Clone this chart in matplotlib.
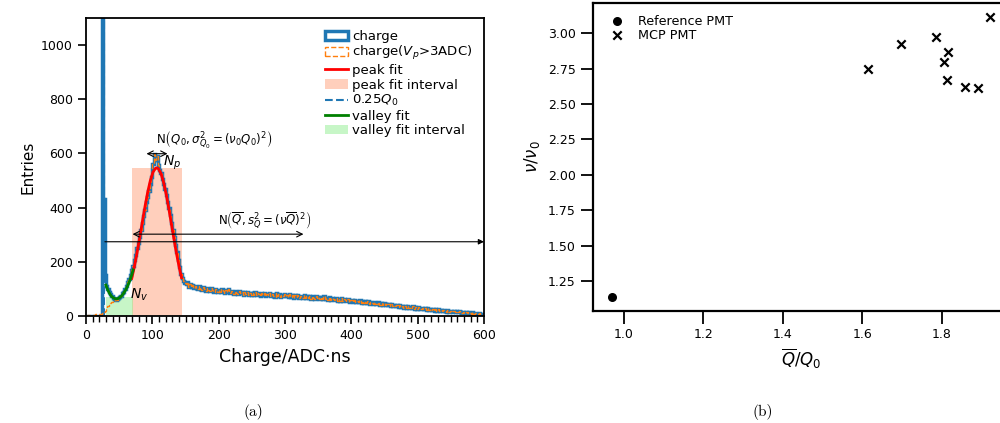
import numpy as np
import matplotlib.pyplot as plt

# histogram: 2 ADC.ns bins from 0 to 600
bin_edges = np.arange(0, 602, 2)
charge_counts = [
    0, 0, 0, 0, 0, 0, 0, 0, 0, 0, 0, 0, 3000, 430, 150, 112, 100, 90, 80, 72, 66, 63, 58, 62, 66,
    70, 75, 84, 90, 100, 112, 125, 138, 150, 168, 185, 205, 225, 250, 268, 292, 318, 345, 368, 392, 420, 440, 462, 488, 512,
    560, 598, 575, 590, 558, 540, 528, 505, 488, 470, 448, 420, 398, 372, 345, 318, 290, 262, 235, 205, 180, 155, 140, 128, 120,
    118, 124, 108, 117, 106, 115, 102, 112, 104, 99, 111, 101, 96, 108, 98, 93, 105, 97, 91, 102, 95, 90, 100, 92, 88,
    97, 89, 99, 91, 86, 96, 88, 98, 84, 93, 87, 82, 94, 85, 80, 91, 83, 89, 78, 87, 81, 90, 79, 86, 77,
    85, 78, 88, 76, 84, 80, 74, 86, 77, 83, 73, 82, 76, 85, 72, 81, 75, 71, 83, 74, 80, 70, 79, 73, 81,
    72, 78, 69, 80, 71, 77, 68, 76, 70, 79, 67, 75, 69, 65, 77, 68, 74, 66, 73, 64, 72, 67, 63, 74, 65,
    71, 62, 69, 64, 72, 61, 68, 60, 70, 59, 66, 63, 58, 67, 57, 64, 56, 65, 55, 63, 58, 54, 62, 53, 60,
    58, 52, 59, 51, 57, 50, 58, 48, 56, 49, 54, 47, 55, 46, 53, 49, 44, 52, 45, 43, 50, 42, 48, 40, 47,
    41, 46, 39, 45, 37, 43, 36, 42, 35, 41, 34, 39, 33, 38, 31, 37, 30, 36, 29, 34, 28, 35, 27, 32, 26,
    32, 27, 25, 31, 24, 29, 23, 28, 22, 27, 21, 26, 20, 25, 19, 24, 18, 23, 17, 22, 19, 16, 22, 15, 20,
    18, 15, 20, 14, 17, 13, 17, 14, 12, 16, 11, 15, 10, 14, 11, 9, 13, 8, 12, 9, 7, 11, 8, 6, 9,
]
# charge(Vp>3ADC): differs from charge only below 50
cut_counts_low = [1, 2, 2, 3, 4, 4, 5, 6, 6, 7, 8, 9, 10, 13, 18, 28, 36, 42, 48, 52, 55, 57, 58, 60, 64]
cut_counts = cut_counts_low + charge_counts[25:]

# fit curves
peak_x = [69, 73, 77, 81, 85, 89, 93, 97, 101, 105, 107, 109, 113, 117, 121, 125, 129, 133, 137, 141, 144]
peak_y = [139, 183, 234, 290, 348, 405, 457, 500, 531, 546, 547, 544, 526, 493, 448, 394, 336, 278, 223, 174, 141]
valley_x = [30, 33, 36, 39, 42, 45, 48, 51, 54, 57, 60, 63, 66, 69, 71]
valley_y = [114, 95, 81, 71, 66, 63, 64, 68, 75, 85, 97, 112, 130, 152, 170]
peak_interval = [69, 144]
peak_height = 547
valley_interval = [30, 71]
valley_height = 69
q0_quarter = 27.5

# right panel
ref_x = [0.97]
ref_y = [1.14]
mcp_x = [1.613, 1.698, 1.784, 1.815, 1.804, 1.812, 1.857, 1.891, 1.921]
mcp_y = [2.747, 2.923, 2.974, 2.868, 2.798, 2.666, 2.617, 2.615, 3.113]

fig = plt.figure(figsize=(10, 4.23), dpi=100)
ax = fig.add_axes([0.086, 0.253, 0.398, 0.7045])
ax2 = fig.add_axes([0.593, 0.2648, 0.416, 0.728])

centers = (bin_edges[:-1] + bin_edges[1:]) / 2
h1 = ax.hist(centers, bins=bin_edges, weights=charge_counts, histtype='step',
             color='tab:blue', lw=2.5, label='charge', zorder=2)[2][0]
h2 = ax.hist(centers, bins=bin_edges, weights=cut_counts, histtype='step',
             color='tab:orange', lw=1, ls='--', label=r'charge($V_p$>3ADC)', zorder=2.1)[2][0]
l1, = ax.plot(peak_x, peak_y, color='red', lw=2, label='peak fit', zorder=3)
f1 = ax.fill_between(peak_interval, 0, peak_height, color='lightsalmon', alpha=0.5,
                     lw=0, label='peak fit interval', zorder=1)
l2 = ax.axvline(q0_quarter, color='tab:blue', ls='--', lw=1.5, label=r'0.25$Q_0$', zorder=1.5)
l3, = ax.plot(valley_x, valley_y, color='green', lw=2, label='valley fit', zorder=3)
f2 = ax.fill_between(valley_interval, 0, valley_height, color='lightgreen', alpha=0.5,
                     lw=0, label='valley fit interval', zorder=1)

ax.annotate('', xy=(87, 599), xytext=(127, 599),
            arrowprops=dict(arrowstyle='<->', lw=0.8, color='k'))
ax.text(106, 612, r'N$\left(Q_0, \sigma^2_{Q_0} = (\nu_0 Q_0)^2\right)$', fontsize=8.5,
        ha='left', va='bottom')
ax.text(116, 564, r'$N_p$', fontsize=10, ha='left', va='center')
ax.annotate('', xy=(66, 302), xytext=(332, 302),
            arrowprops=dict(arrowstyle='<->', lw=0.8, color='k'))
ax.text(199, 315, r'N$\left(\overline{Q}, s^2_Q = (\nu\overline{Q})^2\right)$', fontsize=8.5,
        ha='left', va='bottom')
ax.annotate('', xy=(600, 274), xytext=(28.5, 274),
            arrowprops=dict(arrowstyle='-|>', lw=0.8, color='k', shrinkA=0, shrinkB=0,
                            mutation_scale=8))
ax.text(66, 77, r'$N_v$', fontsize=10, ha='left', va='center')

ax.set_xlim(0, 600)
ax.set_ylim(0, 1100)
ax.set_xticks(range(0, 601, 100))
ax.set_xticks(range(0, 601, 10), minor=True)
ax.tick_params(axis='both', which='major', labelsize=9, direction='out', length=6, width=1.2)
ax.tick_params(axis='x', which='minor', length=4, width=1)
ax.set_xlabel('Charge/ADC·ns', fontsize=12.5)
ax.set_ylabel('Entries', fontsize=11)
for s in ax.spines.values():
    s.set_linewidth(1.3)
ax.legend(handles=[h1, h2, l1, f1, l2, l3, f2], loc='upper right', frameon=False,
          fontsize=9.5, handlelength=1.8, handletextpad=0.25, labelspacing=0.12,
          borderaxespad=0.5)

ax2.scatter(ref_x, ref_y, marker='o', color='k', s=30, label='Reference PMT')
ax2.scatter(mcp_x, mcp_y, marker='x', color='k', s=36, lw=1.6, label='MCP PMT')
ax2.set_xticks([1.0, 1.2, 1.4, 1.6, 1.8])
ax2.set_yticks([1.25, 1.5, 1.75, 2.0, 2.25, 2.5, 2.75, 3.0])
ax2.tick_params(axis='both', labelsize=9, direction='out', length=9, width=1.3)
ax2.set_xlabel(r'$\overline{Q}/Q_0$', fontsize=12)
ax2.set_ylabel(r'$\nu/\nu_0$', fontsize=12)
for s in ax2.spines.values():
    s.set_linewidth(1.6)
ax2.legend(loc='upper left', frameon=False, fontsize=9.2, handletextpad=0.6,
           labelspacing=0.1, borderaxespad=0.5)

fig.text(0.253, 1 - 411.7 / 423, '(a)', fontfamily='cmr10', fontsize=11, ha='center', va='center')
fig.text(0.7625, 1 - 411.7 / 423, '(b)', fontfamily='cmr10', fontsize=11, ha='center', va='center')

fig.savefig('out.png', dpi=100)
